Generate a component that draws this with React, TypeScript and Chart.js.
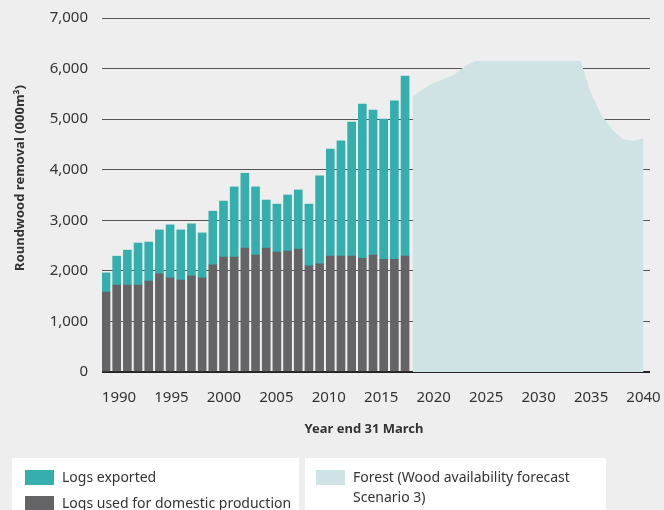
import React, { useEffect, useRef } from "react";
import { Chart, registerables } from "chart.js";

Chart.register(...registerables);

// ---------- data ----------
const barYears = [1990, 1991, 1992, 1993, 1994, 1995, 1996, 1997, 1998, 1999, 2000, 2001, 2002, 2003, 2004, 2005, 2006, 2007, 2008, 2009, 2010, 2011, 2012, 2013, 2014, 2015, 2016, 2017, 2018];
const logsDomestic = [1580, 1720, 1720, 1720, 1800, 1940, 1860, 1820, 1900, 1860, 2120, 2270, 2270, 2450, 2310, 2450, 2370, 2390, 2430, 2100, 2140, 2290, 2290, 2290, 2250, 2310, 2230, 2230, 2290];
const logsExported = [380, 570, 690, 830, 770, 870, 1050, 990, 1030, 890, 1060, 1110, 1390, 1480, 1350, 950, 950, 1110, 1170, 1220, 1740, 2120, 2280, 2650, 3050, 2870, 2770, 3130, 3560];

const forecastYears = [2018, 2019, 2020, 2021, 2022, 2023, 2024, 2025, 2026, 2027, 2028, 2029, 2030, 2031, 2032, 2033, 2034, 2035, 2036, 2037, 2038, 2039, 2040];
const forecastValues = [5445, 5595, 5720, 5795, 5890, 6050, 6150, 6150, 6150, 6150, 6150, 6150, 6150, 6150, 6150, 6150, 6150, 5510, 5075, 4800, 4607, 4568, 4621];

const xTickYears = [1990, 1995, 2000, 2005, 2010, 2015, 2020, 2025, 2030, 2035, 2040];
const yTickValues = [0, 1000, 2000, 3000, 4000, 5000, 6000, 7000];

const seriesLabels = ["Logs exported", "Logs used for domestic production", "Forest (Wood availability forecast", "Scenario 3)"];
const xTitle = "Year end 31 March";
const yTitle = "Roundwood removal (000m\u00b3)";

// ---------- styles ----------
const FONT = '"Noto Sans", "DejaVu Sans", sans-serif';
const TEAL = "#35afad";
const GREY = "#646466";
const FOREST = "#cfe3e4";
const TEXT = "#333333";

const titlePlugin = {
  id: "axisTitles",
  afterDraw(chart: any) {
    const ctx = chart.ctx;
    ctx.save();
    ctx.fillStyle = TEXT;
    ctx.font = `bold 13px ${FONT}`;
    ctx.textAlign = "center";
    ctx.textBaseline = "middle";
    ctx.fillText(xTitle, 364, 429);
    ctx.translate(20, 178);
    ctx.rotate(-Math.PI / 2);
    ctx.fillText(yTitle, 0, 0);
    ctx.restore();
  },
};

const zeroPad = (s: any) => {
  s.paddingLeft = 0;
  s.paddingRight = 0;
  s.paddingTop = 0;
  s.paddingBottom = 0;
};

export default function App() {
  const canvasRef = useRef<HTMLCanvasElement | null>(null);

  useEffect(() => {
    if (!canvasRef.current) return;
    Chart.defaults.font.family = FONT;
    Chart.defaults.color = TEXT;
    const chart = new Chart(canvasRef.current, {
      type: "bar",
      data: {
        datasets: [
          {
            type: "bar",
            label: seriesLabels[1],
            data: barYears.map((x, i) => ({ x, y: logsDomestic[i] })),
            backgroundColor: GREY,
            barThickness: 8,
            xAxisID: "xb",
            stack: "logs",
            order: 2,
          },
          {
            type: "bar",
            label: seriesLabels[0],
            data: barYears.map((x, i) => ({ x, y: logsExported[i] })),
            backgroundColor: TEAL,
            barThickness: 8,
            xAxisID: "xb",
            stack: "logs",
            order: 2,
          },
          {
            type: "line",
            label: seriesLabels[2] + " " + seriesLabels[3],
            data: forecastYears.map((x, i) => ({ x, y: forecastValues[i] })),
            backgroundColor: FOREST,
            borderWidth: 0,
            pointRadius: 0,
            fill: "origin",
            tension: 0,
            xAxisID: "x",
            stack: "forecast",
            order: 1,
          } as any,
        ],
      },
      options: {
        responsive: false,
        animation: false,
        layout: { padding: { left: 0, right: 14, top: 18, bottom: 98 } },
        plugins: { legend: { display: false }, tooltip: { enabled: false } },
        scales: {
          x: {
            type: "linear",
            offset: false,
            min: 1988.38,
            max: 2040.62,
            grid: { display: false, drawTicks: false, offset: false },
            border: { display: false },
            ticks: {
              padding: 17,
              font: { size: 15 },
              color: TEXT,
              callback: (v: any) => String(v),
            },
            afterBuildTicks: (s: any) => {
              s.ticks = xTickYears.map((v) => ({ value: v }));
            },
            afterFit: (s: any) => {
              s.height = 40;
              zeroPad(s);
            },
          },
          xb: {
            type: "linear",
            display: false,
            offset: false,
            grid: { offset: false },
            min: 1989.25,
            max: 2040.56,
            stacked: true,
          },
          y: {
            type: "linear",
            min: 0,
            max: 7000,
            stacked: true,
            border: { display: false },
            grid: {
              drawTicks: false,
              color: (c: any) => (c.tick && c.tick.value === 0 ? "#222222" : "#555555"),
              lineWidth: (c: any) => (c.tick && c.tick.value === 0 ? 2 : 1),
            },
            ticks: {
              padding: 14,
              font: { size: 15 },
              color: TEXT,
              callback: (v: any) => Number(v).toLocaleString("en-US"),
            },
            afterBuildTicks: (s: any) => {
              s.ticks = yTickValues.map((v) => ({ value: v }));
            },
            afterFit: (s: any) => {
              s.width = 102;
              zeroPad(s);
            },
          },
        },
      } as any,
      plugins: [titlePlugin],
    });
    return () => chart.destroy();
  }, []);

  const legendText: React.CSSProperties = {
    position: "absolute",
    fontFamily: FONT,
    fontSize: 14,
    color: TEXT,
    lineHeight: "20px",
    whiteSpace: "nowrap",
  };

  return (
    <div style={{ position: "absolute", left: 0, top: 0, width: 664, height: 510, background: "#eeeeee", overflow: "hidden" }}>
      <canvas ref={canvasRef} width={664} height={510} style={{ position: "absolute", left: 0, top: 0 }} />
      <div style={{ position: "absolute", left: 12, top: 458, width: 287, height: 60, background: "#ffffff" }} />
      <div style={{ position: "absolute", left: 305, top: 458, width: 301, height: 60, background: "#ffffff" }} />
      <div style={{ position: "absolute", left: 25, top: 470, width: 29, height: 15, background: TEAL }} />
      <div style={{ ...legendText, left: 62, top: 467 }}>{seriesLabels[0]}</div>
      <div style={{ position: "absolute", left: 25, top: 496, width: 29, height: 15, background: GREY }} />
      <div style={{ ...legendText, left: 62, top: 493 }}>{seriesLabels[1]}</div>
      <div style={{ position: "absolute", left: 316, top: 470, width: 29, height: 15, background: FOREST }} />
      <div style={{ ...legendText, left: 353, top: 467 }}>
        {seriesLabels[2]}
        <br />
        {seriesLabels[3]}
      </div>
    </div>
  );
}
